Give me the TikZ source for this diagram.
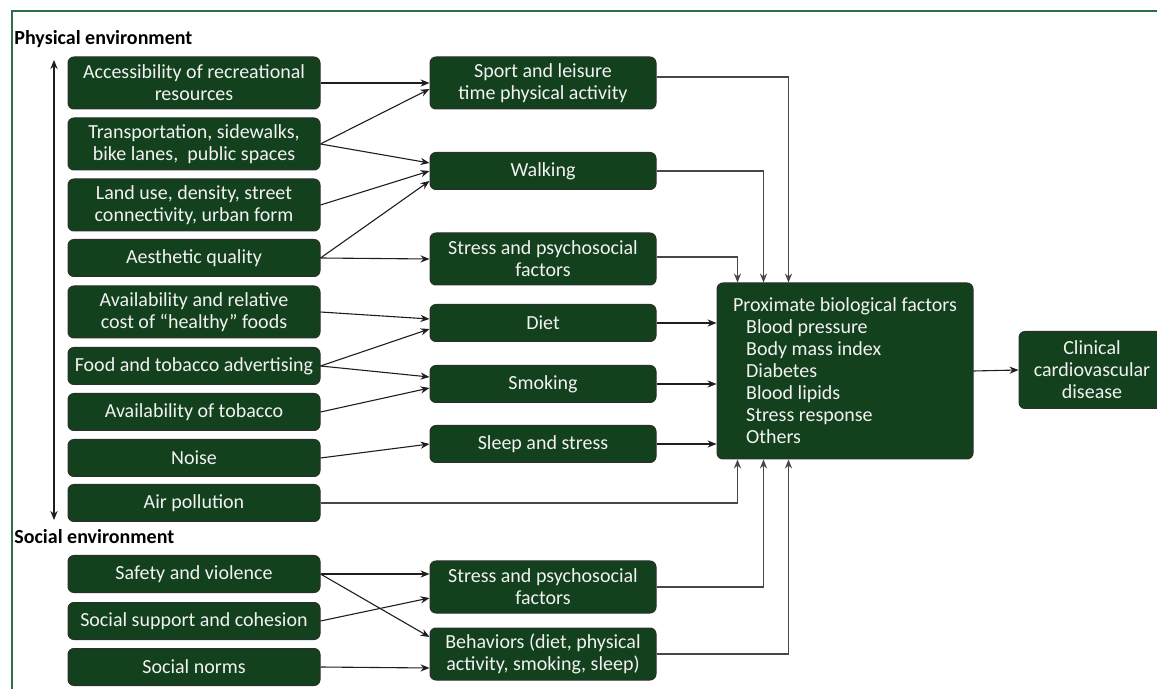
\documentclass[tikz,border=0pt]{standalone}
\usepackage{fontspec}
\setmainfont{Carlito}
\usepackage{tikz}
\usetikzlibrary{arrows.meta,positioning,calc}
\definecolor{pgreen}{HTML}{13401D}
\definecolor{pgreend}{HTML}{2A2F2A}
\definecolor{pframe}{HTML}{2C6E45}
\definecolor{ptext}{HTML}{F2F2F2}
\definecolor{pline}{HTML}{1E1E1E}
\definecolor{proute}{HTML}{474747}
\tikzset{
  % dark green factor box with white text
  blk/.style   = {rectangle, rounded corners=3pt, draw=pgreend, fill=pgreen, line width=0.5pt,
                  text=ptext, align=center, inner xsep=2pt, inner ysep=1pt,
                  font=\fontsize{10}{11}\selectfont, minimum width=#1},
  blk/.default = 126pt,
  src/.style   = {blk=126pt},
  mid/.style   = {blk=113pt},
  arr/.style   = {-{Stealth[length=4.5pt,width=3.6pt]}, line width=0.55pt, pline},
  route/.style = {-{Stealth[length=4.5pt,width=3.6pt]}, line width=0.65pt, proute},
  side/.style  = {font=\fontsize{10}{11}\selectfont\bfseries, anchor=west, inner sep=0pt},
}
\begin{document}
\begin{tikzpicture}[x=0.5pt,y=-0.5pt]
\useasboundingbox (0,0) rectangle (1157,689);
% frame (cut on the right and bottom)
\draw[pframe, line width=1pt] (12,700) -- (12,11) -- (1170,11);
% side labels
\node[side] (phys) at (14,39) {Physical environment};
\node[side] (soc) at (14,537) {Social environment};
\coordinate (axtop) at (54,60);
\coordinate (axbot) at (54,520);
\draw[{Stealth[length=4.5pt,width=3.6pt]}-{Stealth[length=4.5pt,width=3.6pt]}, line width=0.55pt, pline] (axtop) -- (axbot);
% environment factors
\node[src, minimum height=26pt]   (acc)   at (194,83)  {Accessibility of recreational\\resources};
\node[src, minimum height=26pt]   (trans) at (194,144) {Transportation, sidewalks,\\bike lanes,\ \ public spaces};
\node[src, minimum height=26pt]   (land)  at (194,205) {Land use, density, street\\connectivity, urban form};
\node[src, minimum height=18.5pt] (aes)   at (194,258) {Aesthetic quality};
\node[src, minimum height=26pt]   (food)  at (194,312) {Availability and relative\\cost of “healthy” foods};
\node[src, minimum height=18.5pt] (adv)   at (194,366) {Food and tobacco advertising};
\node[src, minimum height=18.5pt] (tob)   at (194,412) {Availability of tobacco};
\node[src, minimum height=18.5pt] (noise) at (194,458) {Noise};
\node[src, minimum height=18.5pt] (air)   at (194,503) {Air pollution};
\node[src, minimum height=18.5pt] (safe)  at (194,574) {Safety and violence};
\node[src, minimum height=18.5pt] (supp)  at (194,621) {Social support and cohesion};
\node[src, minimum height=18.5pt] (norms) at (194,667) {Social norms};
% pathways
\node[mid, minimum height=26pt]   (sport)   at (543,83)  {Sport and leisure\\time physical activity};
\node[mid, minimum height=18.5pt] (walk)    at (543,171) {Walking};
\node[mid, minimum height=26pt]   (stressA) at (543,259) {Stress and psychosocial\\factors};
\node[mid, minimum height=18.5pt] (diet)    at (543,323) {Diet};
\node[mid, minimum height=18.5pt] (smoke)   at (543,384) {Smoking};
\node[mid, minimum height=18.5pt] (sleep)   at (543,444) {Sleep and stress};
\node[mid, minimum height=26pt]   (stressB) at (543,587) {Stress and psychosocial\\factors};
\node[mid, minimum height=26pt]   (behav)   at (543,654) {Behaviors (diet, physical\\activity, smoking, sleep)};
% outcomes
\node[blk=128pt, minimum height=88pt, align=left, inner xsep=7pt] (prox) at (845,371)
     {Proximate biological factors\\
      \hspace*{6.5pt}Blood pressure\\
      \hspace*{6.5pt}Body mass index\\
      \hspace*{6.5pt}Diabetes\\
      \hspace*{6.5pt}Blood lipids\\
      \hspace*{6.5pt}Stress response\\
      \hspace*{6.5pt}Others};
\node[blk=73pt, minimum height=38.5pt] (cvd) at (1092,370) {Clinical\\cardiovascular\\disease};
% environment -> pathways
\draw[arr] (acc.east) -- (sport.west);
\draw[arr] (trans.east) -- ([yshift=-3pt]sport.west);
\draw[arr] (trans.east) -- ([yshift=4pt]walk.west);
\draw[arr] (land.east) -- (walk.west);
\draw[arr] (aes.east) -- ([yshift=-5pt]walk.west);
\draw[arr] (aes.east) -- (stressA.west);
\draw[arr] (food.east) -- ([yshift=2pt]diet.west);
\draw[arr] (adv.east) -- ([yshift=-3pt]diet.west);
\draw[arr] (adv.east) -- ([yshift=3.5pt]smoke.west);
\draw[arr] (tob.east) -- ([yshift=-2pt]smoke.west);
\draw[arr] (noise.east) -- (sleep.west);
\draw[arr] (safe.east) -- ([yshift=6.5pt]stressB.west);
\draw[arr] (safe.east) -- ([yshift=8.5pt]behav.west);
\draw[arr] (supp.east) -- ([yshift=-5.5pt]stressB.west);
\draw[arr] (norms.east) -- ([yshift=-7pt]behav.west);
% pathways -> proximate factors
\draw[route] ([yshift=3pt]sport.east) -| ([xshift=36pt]prox.north west);
\draw[route] (walk.east) -| ([xshift=23.5pt]prox.north west);
\draw[route] ([yshift=1pt]stressA.east) -| ([xshift=10.5pt]prox.north west);
\draw[arr] (diet.east) -- (diet.east -| prox.west);
\draw[arr] (smoke.east) -- (smoke.east -| prox.west);
\draw[arr] (sleep.east) -- (sleep.east -| prox.west);
\draw[route] (air.east) -| ([xshift=10.5pt]prox.south west);
\draw[route] (stressB.east) -| ([xshift=23.5pt]prox.south west);
\draw[route] (behav.east) -| ([xshift=36pt]prox.south west);
\draw[arr] (prox.east) -- (cvd.west);
\end{tikzpicture}
\end{document}
